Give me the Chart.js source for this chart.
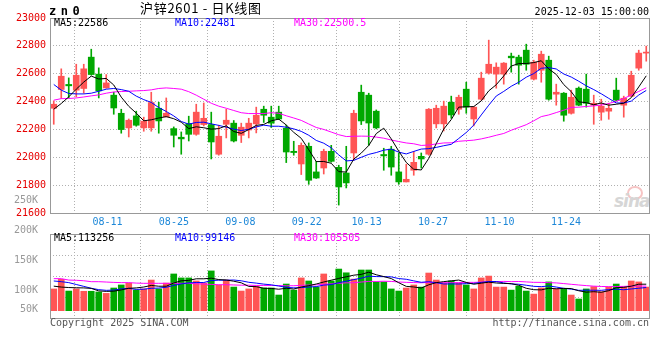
<!DOCTYPE html>
<html>
<head>
<meta charset="utf-8">
<script src="https://cdn.jsdelivr.net/npm/chart.js@4.4.0/dist/chart.umd.min.js"></script>
<style>
  html, body { margin: 0; padding: 0; background: #fff; }
  #wrap { position: relative; width: 660px; height: 360px; overflow: hidden;
          font-family: "DejaVu Sans Mono", monospace; font-size: 10px; line-height: 10px; }
  .box { position: absolute; left: 0; }
  .t { position: absolute; white-space: pre; }
</style>
</head>
<body>
<div id="wrap">
  <div style="position:absolute;left:627px;top:186px;width:12px;height:10px;border-radius:50%;border:2px solid #f6c4c4"></div>
  <div class="t" style="left:614px;top:193px;font:italic bold 17px/17px 'DejaVu Sans';letter-spacing:-1px;color:#d6d6d6">sina</div>
  <div class="box" style="top:0"><canvas id="priceChart" width="660" height="232"></canvas></div>
  <div class="box" style="top:190px"><canvas id="volChart" width="660" height="170"></canvas></div>

  <div class="t" style="left:49px;top:5px;font-weight:bold;font-size:12px;line-height:12px;letter-spacing:4.5px">zn0</div>
  <div class="t" style="left:140px;top:1px;font-family:'Noto Sans CJK SC';font-size:13px;line-height:14px;letter-spacing:0.7px">沪锌2601 - 日K线图</div>
  <div class="t" style="right:11px;top:7px">2025-12-03 15:00:00</div>

  <div class="t" id="ma5" style="left:54px;top:18px;color:#000"></div>
  <div class="t" id="ma10" style="left:175px;top:18px;color:#0000ff"></div>
  <div class="t" id="ma30" style="left:294px;top:18px;color:#ff00ff"></div>
  <div class="t" id="vma5" style="left:54px;top:233px;color:#000"></div>
  <div class="t" id="vma10" style="left:175px;top:233px;color:#0000ff"></div>
  <div class="t" id="vma30" style="left:294px;top:233px;color:#ff00ff"></div>

  <div class="t" style="left:50px;top:318px;color:#555">Copyright 2025 SINA.COM</div>
  <div class="t" style="right:11px;top:318px;color:#555">http://finance.sina.com.cn</div>
</div>

<script>
// trading days shown on the chart
const DATES = [
  '08-06','08-07','08-08',
  '08-11','08-12','08-13','08-14','08-15',
  '08-18','08-19','08-20','08-21','08-22',
  '08-25','08-26','08-27','08-28','08-29',
  '09-01','09-02','09-03','09-04','09-05',
  '09-08','09-09','09-10','09-11','09-12',
  '09-15','09-16','09-17','09-18','09-19',
  '09-22','09-23','09-24','09-25','09-26',
  '09-29','09-30',
  '10-09','10-10',
  '10-13','10-14','10-15','10-16','10-17',
  '10-20','10-21','10-22','10-23','10-24',
  '10-27','10-28','10-29','10-30','10-31',
  '11-03','11-04','11-05','11-06','11-07',
  '11-10','11-11','11-12','11-13','11-14',
  '11-17','11-18','11-19','11-20','11-21',
  '11-24','11-25','11-26','11-27','11-28',
  '12-01','12-02','12-03'
];

const OPEN = [
  22352, 22487, 22523, 22482, 22494, 22719, 22597, 22498, 22446, 22316,
  22211, 22297, 22211, 22211, 22352, 22290, 22206, 22144, 22242, 22165,
  22235, 22235, 22022, 22237, 22245, 22158, 22196, 22240, 22345, 22288,
  22324, 22209, 22043, 21952, 22079, 21895, 21923, 22043, 21928, 21887,
  22031, 22467, 22446, 22331, 22020, 22058, 21895, 21823, 21907, 22007,
  22022, 22240, 22240, 22395, 22345, 22489, 22275, 22417, 22604, 22597,
  22597, 22726, 22719, 22769, 22561, 22625, 22697, 22453, 22460, 22316,
  22496, 22489, 22374, 22324, 22331, 22482, 22374, 22439, 22640, 22748
];
const HIGH = [
  22405, 22635, 22570, 22668, 22668, 22776, 22642, 22594, 22467, 22345,
  22275, 22331, 22288, 22467, 22395, 22426, 22218, 22182, 22295, 22381,
  22390, 22324, 22230, 22345, 22264, 22245, 22280, 22360, 22367, 22367,
  22367, 22230, 22115, 22103, 22103, 21971, 22058, 22086, 21943, 22079,
  22338, 22518, 22460, 22340, 22065, 22079, 22031, 21950, 22043, 22031,
  22350, 22374, 22403, 22439, 22446, 22539, 22365, 22611, 22841, 22678,
  22680, 22748, 22733, 22812, 22697, 22762, 22726, 22525, 22465, 22482,
  22505, 22597, 22446, 22417, 22388, 22568, 22439, 22618, 22769, 22798
];
const LOW = [
  22237, 22422, 22426, 22434, 22460, 22590, 22426, 22496, 22309, 22173,
  22146, 22223, 22187, 22187, 22173, 22290, 22074, 22022, 22117, 22158,
  22225, 21988, 22015, 22139, 22110, 22106, 22139, 22175, 22250, 22214,
  22270, 21962, 22015, 21876, 21806, 21848, 21880, 21965, 21657, 21780,
  21979, 22235, 22086, 22204, 21907, 21871, 21806, 21823, 21871, 21923,
  22015, 22211, 22189, 22280, 22309, 22316, 22225, 22410, 22597, 22496,
  22525, 22611, 22525, 22625, 22555, 22539, 22410, 22374, 22259, 22310,
  22370, 22360, 22237, 22266, 22273, 22405, 22288, 22435, 22625, 22690
];
const CLOSE = [
  22381, 22582, 22513, 22589, 22635, 22594, 22477, 22534, 22354, 22199,
  22266, 22230, 22259, 22393, 22261, 22316, 22158, 22132, 22165, 22324,
  22280, 22110, 22151, 22266, 22117, 22216, 22245, 22302, 22302, 22245,
  22275, 22038, 22034, 22086, 21835, 21851, 22043, 21971, 21787, 21816,
  22316, 22261, 22246, 22211, 22010, 21930, 21823, 21842, 21964, 21988,
  22345, 22352, 22367, 22304, 22431, 22360, 22360, 22568, 22668, 22647,
  22676, 22714, 22661, 22668, 22683, 22740, 22417, 22467, 22302, 22431,
  22374, 22388, 22388, 22367, 22352, 22410, 22424, 22589, 22748, 22755
];

const MA5 = [
  22345, 22386, 22434, 22489, 22540, 22583, 22562, 22566, 22519, 22432,
  22366, 22317, 22262, 22269, 22282, 22292, 22277, 22252, 22206, 22219,
  22212, 22202, 22206, 22226, 22185, 22172, 22199, 22229, 22236, 22262,
  22274, 22232, 22179, 22136, 22054, 21969, 21970, 21957, 21897, 21894,
  21987, 22030, 22085, 22170, 22209, 22132, 22044, 21963, 21914, 21909,
  21992, 22098, 22203, 22271, 22360, 22363, 22364, 22405, 22477, 22521,
  22584, 22655, 22673, 22673, 22680, 22693, 22634, 22595, 22522, 22471,
  22398, 22392, 22377, 22390, 22374, 22381, 22388, 22428, 22505, 22585
];
const MA10 = [
  22523, 22482, 22458, 22455, 22455, 22460, 22474, 22489, 22494, 22486,
  22474, 22439, 22414, 22394, 22357, 22329, 22297, 22257, 22238, 22250,
  22252, 22240, 22229, 22216, 22202, 22192, 22201, 22218, 22231, 22223,
  22223, 22216, 22204, 22186, 22158, 22121, 22101, 22068, 22017, 21974,
  21978, 22000, 22021, 22034, 22051, 22059, 22037, 22024, 22042, 22059,
  22062, 22071, 22083, 22093, 22135, 22178, 22231, 22304, 22374, 22440,
  22473, 22510, 22539, 22575, 22601, 22639, 22644, 22634, 22598, 22576,
  22546, 22513, 22486, 22456, 22423, 22390, 22390, 22403, 22447, 22480
];
const MA30 = [
  22410, 22421, 22422, 22426, 22433, 22441, 22448, 22460, 22469, 22472,
  22474, 22477, 22479, 22484, 22494, 22498, 22494, 22489, 22471, 22446,
  22417, 22388, 22367, 22352, 22336, 22320, 22314, 22314, 22314, 22320,
  22316, 22298, 22282, 22265, 22239, 22214, 22200, 22181, 22162, 22149,
  22151, 22152, 22151, 22145, 22137, 22124, 22113, 22103, 22097, 22085,
  22088, 22096, 22103, 22104, 22115, 22119, 22123, 22132, 22144, 22158,
  22171, 22194, 22214, 22234, 22262, 22292, 22304, 22321, 22338, 22358,
  22360, 22365, 22369, 22375, 22386, 22402, 22422, 22447, 22473, 22499
];

const VOLUME = [
   93000, 134000,  84000,  93000,  83000,  83000,  80000,  74000,  97000, 110000,
  118000,  88000,  93000, 131000,  93000, 118000, 157000, 140000, 140000, 127000,
  118000, 170000, 110000, 131000, 101000,  84000,  93000, 105000,  97000,  97000,
   67000, 114000,  88000, 140000, 127000, 101000, 157000, 127000, 178000, 162000,
  135000, 174000, 174000, 123000, 123000,  93000,  84000,  97000, 110000, 101000,
  161000, 131000, 118000, 127000, 118000, 110000,  93000, 140000, 148000, 101000,
  101000,  88000, 105000,  84000,  71000,  97000, 123000,  93000,  93000,  67000,
   50000,  93000, 103000,  81000, 101000, 114000, 101000, 127000, 123000, 101000
];
const VOL_MA5 = [
  105000, 101000,  99000,  98000,  97400,  95400,  84600,  82600,  83400,  88800,
   95800,  97400, 101200, 108000, 104600, 104600, 118400, 127800, 129600, 136400,
  136400, 139000, 133000, 131200, 126000, 119200, 103800, 102800,  96000,  95200,
   91800,  96000,  92600, 101200, 107200, 114000, 122600, 130400, 138000, 145000,
  151800, 155200, 164600, 153600, 145800, 137400, 119400, 104000, 101400,  97000,
  110600, 120000, 124200, 127600, 131000, 120800, 113200, 117600, 121800, 118400,
  116600, 115600, 108600,  95800,  89800,  89000,  96000,  93600,  95400,  94600,
   85200,  79200,  81200,  78800,  85600,  98400, 100000, 104800, 113200, 113256
];
const VOL_MA10 = [
  127000, 124000, 120000, 112000, 104000,  96000,  90000,  87000,  88000,  93100,
   95600,  91000,  91900,  95700,  96700, 100200, 107900, 114500, 118800, 120500,
  120500, 128700, 130400, 130400, 131200, 127800, 121400, 117900, 113600, 110600,
  105500,  99900,  97700,  98600, 101200, 102900, 109300, 111500, 119600, 126100,
  132900, 138900, 147500, 145800, 145400, 144600, 137300, 134300, 127500, 121400,
  124000, 119700, 114100, 114500, 114000, 115700, 116600, 120900, 124700, 124700,
  118700, 114400, 113100, 108800, 104100, 102800, 105800, 101100,  95600,  92200,
   87100,  87600,  87400,  87100,  90100,  91800,  89600,  93000,  96000,  99146
];
const VOL_MA30 = [
  137000, 137000, 131000, 130000, 128000, 124000, 124000, 122500, 121000, 120000,
  120000, 118000, 117000, 117000, 117000, 117000, 117000, 117000, 117000, 115000,
  114000, 112500, 111000, 111000, 110000, 109000, 109000, 108000, 108000, 108100,
  107200, 106500, 106700, 108200, 109700, 110300, 112900, 114600, 117300, 119100,
  119600, 122500, 125200, 124900, 125900, 125100, 122700, 121200, 120200, 119400,
  120800, 119500, 119800, 119600, 120200, 121100, 121100, 122200, 123900, 124100,
  125200, 124300, 124900, 123000, 121200, 121000, 119900, 118800, 115900, 112800,
  109900, 107200, 104900, 103500, 102700, 103400, 104000, 105000, 105400, 105505
];

const DATE_TICKS = ['08-11', '08-25', '09-08', '09-22', '10-13', '10-27', '11-10', '11-24'];
const PRICE_TICKS = [21600, 21800, 22000, 22200, 22400, 22600, 22800, 23000];
const VOL_TICKS = [50000, 100000, 150000, 200000, 250000];
const MA_LEGEND = ['MA5:22586', 'MA10:22481', 'MA30:22500.5'];
const VOL_LEGEND = ['MA5:113256', 'MA10:99146', 'MA30:105505'];

const RED = '#ff5555';
const GREEN = '#00a800';
const GRID = '#b0b0b0';
const FONT = { family: 'DejaVu Sans Mono', size: 10 };

['ma5', 'ma10', 'ma30'].forEach((id, i) => { document.getElementById(id).textContent = MA_LEGEND[i]; });
['vma5', 'vma10', 'vma30'].forEach((id, i) => { document.getElementById(id).textContent = VOL_LEGEND[i]; });

const candleColors = OPEN.map((o, i) => (CLOSE[i] >= o ? RED : GREEN));
const dateTicks = () => DATE_TICKS.map(d => ({ value: DATES.indexOf(d) }));

// grey box round each plot area
const frame = {
    id: 'frame',
    afterDraw(chart) {
        const { ctx, chartArea: a } = chart;
        ctx.save();
        ctx.strokeStyle = '#999';
        ctx.lineWidth = 1;
        ctx.strokeRect(a.left + 0.5, a.top + 0.5, a.right - a.left - 1, a.bottom - a.top);
        ctx.restore();
    }
};

function maLine(data, color, yAxisID) {
    return {
        type: 'line', data, borderColor: color, borderWidth: 1,
        pointRadius: 0, tension: 0, xAxisID: 'x', yAxisID
    };
}

// date grid sits on an evenly spread index axis, candles on the category axis
function dateAxis(showLabels, height) {
    return {
        type: 'linear', position: 'bottom', min: 0, max: DATES.length - 1,
        afterBuildTicks: s => { s.ticks = dateTicks(); },
        ticks: {
            display: showLabels, autoSkip: false, maxRotation: 0, padding: 3,
            color: '#1e88d8', font: FONT,
            callback: v => DATES[v]
        },
        grid: { color: GRID, drawTicks: false },
        border: { display: false, dash: [1, 2] },
        afterFit: s => { s.height = height; }
    };
}

const common = {
    responsive: false,
    animation: false,
    events: [],
    plugins: { legend: { display: false }, tooltip: { enabled: false } }
};

new Chart(document.getElementById('priceChart'), {
    type: 'bar',
    data: {
        labels: DATES,
        datasets: [
            maLine(MA5, '#000000', 'y'),
            maLine(MA10, '#0000ff', 'y'),
            maLine(MA30, '#ff00ff', 'y'),
            {
                type: 'bar', data: OPEN.map((o, i) => [o, CLOSE[i]]),
                backgroundColor: candleColors, barThickness: 6, minBarLength: 1,
                grouped: false, xAxisID: 'x', yAxisID: 'y'
            },
            {
                type: 'bar', data: LOW.map((l, i) => [l, HIGH[i]]),
                backgroundColor: candleColors, barThickness: 1,
                grouped: false, xAxisID: 'x', yAxisID: 'y'
            }
        ]
    },
    options: {
        ...common,
        layout: { padding: { top: 18, right: 10, bottom: 0, left: 0 } },
        scales: {
            x: { type: 'category', offset: true, display: false },
            x2: dateAxis(true, 19),
            y: {
                type: 'linear', position: 'left', min: 21600, max: 23000,
                afterBuildTicks: s => { s.ticks = PRICE_TICKS.map(v => ({ value: v })); },
                ticks: { color: '#e60000', font: FONT, padding: 4, autoSkip: false, callback: v => String(v) },
                grid: { color: GRID, drawTicks: false },
                border: { display: false, dash: [1, 2] },
                afterFit: s => { s.width = 50; }
            }
        }
    },
    plugins: [frame]
});

new Chart(document.getElementById('volChart'), {
    type: 'bar',
    data: {
        labels: DATES,
        datasets: [
            maLine(VOL_MA5, '#000000', 'yVol'),
            maLine(VOL_MA10, '#0000ff', 'yVol'),
            maLine(VOL_MA30, '#ff00ff', 'yVol'),
            {
                type: 'bar', data: VOLUME, backgroundColor: candleColors,
                barThickness: 6, xAxisID: 'x', yAxisID: 'yVol'
            }
        ]
    },
    options: {
        ...common,
        layout: { padding: { top: 44, right: 10, bottom: 42, left: 0 } },
        scales: {
            x: { type: 'category', offset: true, display: false },
            x2: dateAxis(false, 0),
            yVol: {
                type: 'linear', position: 'right', min: -31200, max: 327800,
                afterBuildTicks: s => { s.ticks = [1, 2, 3].map(j => ({ value: s.min + (s.max - s.min) * j / 4 })); },
                ticks: { display: false },
                grid: { color: GRID, drawTicks: false },
                border: { display: false, dash: [1, 2] },
                afterFit: s => { s.width = 0; }
            },
            // Sina prints its volume labels on a scale of their own
            yLab: {
                type: 'linear', position: 'left', min: 53333, max: 193333,
                afterBuildTicks: s => {
                    const low = s.min + (s.max - s.min) * 0.1;
                    s.ticks = VOL_TICKS.map(v => ({ value: Math.max(v, low) }));
                },
                ticks: {
                    color: '#999', font: FONT, padding: 4, autoSkip: false,
                    callback: (v, i) => VOL_TICKS[i] / 1000 + 'K'
                },
                grid: { display: false },
                border: { display: false },
                afterFit: s => { s.width = 50; }
            }
        }
    },
    plugins: [frame]
});
</script>
</body>
</html>
